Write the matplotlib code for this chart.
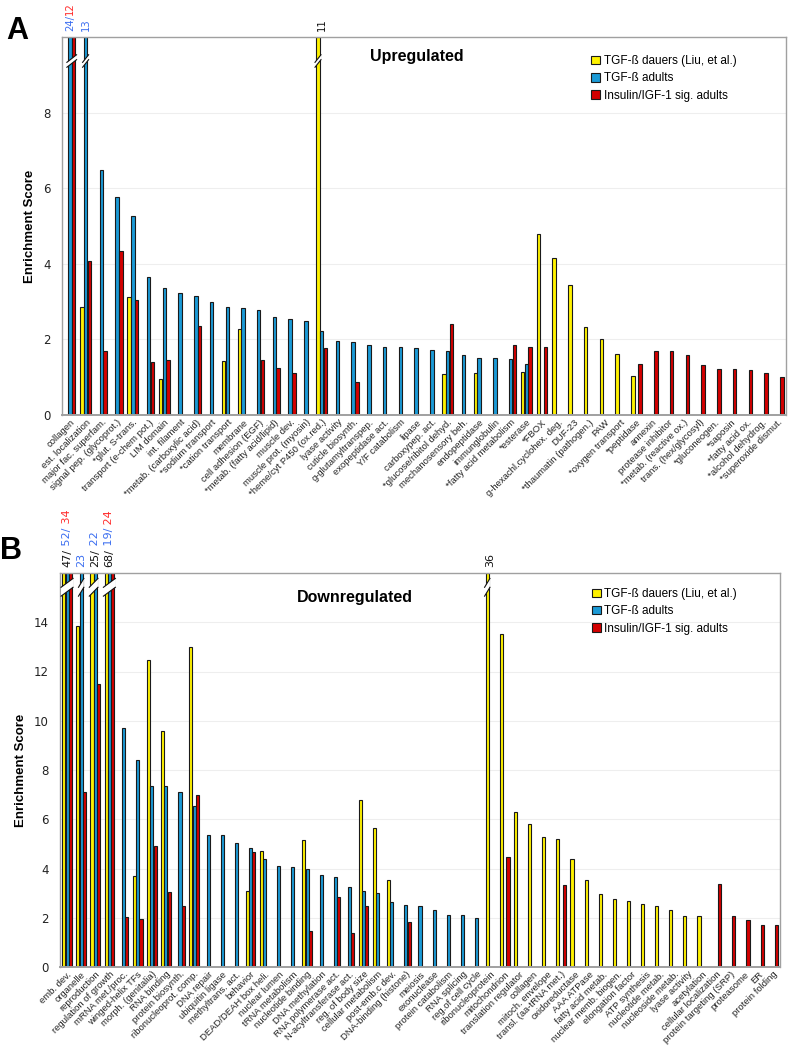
import numpy as np
import matplotlib
matplotlib.use('Agg')
import matplotlib.pyplot as plt
from matplotlib.patches import Patch, Polygon

nan = np.nan

# ---- panel A: upregulated ----
up_categories = ['collagen', 'est. localization', 'major fac. superfam.', 'signal pep. (glycoprot.)',
                 '*glut. S-trans.', 'transport (e-chem pot.)', 'LIM domain', 'int. filament',
                 '*metab. (carboxylic acid)', '*sodium transport', '*cation transport', 'membrane',
                 'cell adhesion (EGF)', '*metab. (fatty acid/lipid)', 'muscle dev.', 'muscle prot. (myosin)',
                 '*heme/cyt P450 (ox.red.)', 'lyase activity', 'cuticle biosynth.', 'g-glutamyltranspep.',
                 'exopeptidase act.', 'Y/F catabolism', 'lipase', 'carboxypep. act.',
                 '*glucose/ribitol dehyd.', 'mechanosensory beh.', 'endopeptidase', 'immunglobulin',
                 '*fatty acid metabolism', '*esterase', '*FBOX', 'g-hexachl.cyclohex. deg.', 'DUF-23',
                 '*thaumatin (pathogen.)', 'PAW', '*oxygen transport', '*peptidase', 'annexin',
                 'protease inhibitor', '*metab. (reactive ox.)', 'trans. (hex/glycosyl)', '*gluconeogen.',
                 '*saposin', '*fatty acid ox.', '*alcohol dehydrog.', '*superoxide dismut.']
up_dauers = [nan, 2.87, nan, nan, 3.12, nan, 0.95, nan, nan, nan, 1.42, 2.28, nan, nan, nan, nan,
             11, nan, nan, nan, nan, nan, nan, nan, 1.08, nan, 1.12, nan, nan, 1.15, 4.78, 4.15,
             3.44, 2.34, 2.01, 1.62, 1.02, nan, nan, nan, nan, nan, nan, nan, nan, nan]
up_tgf_adults = [24, 13, 6.47, 5.76, 5.27, 3.65, 3.37, 3.24, 3.16, 2.98, 2.86, 2.82, 2.77, 2.59, 2.54, 2.49,
                 2.23, 1.95, 1.92, 1.86, 1.80, 1.80, 1.76, 1.71, 1.68, 1.60, 1.50, 1.50, 1.48, 1.35,
                 nan, nan, nan, nan, nan, nan, nan, nan, nan, nan, nan, nan, nan, nan, nan, nan]
up_insulin = [12, 4.08, 1.70, 4.34, 3.03, 1.40, 1.46, nan, 2.35, nan, nan, nan, 1.45, 1.24, 1.11, nan,
              1.78, nan, 0.88, nan, nan, nan, nan, nan, 2.41, nan, nan, nan, 1.84, 1.79, 1.79, nan,
              nan, nan, nan, nan, 1.35, 1.69, 1.69, 1.59, 1.32, 1.23, 1.23, 1.19, 1.11, 1.01]

# ---- panel B: downregulated ----
down_categories = ['emb. dev.', 'organelle', 'reproduction', 'regulation of growth', 'mRNA met./proc.',
                   'winged-helix TFs', 'morph. (genitalia)', 'RNA binding', 'protein biosynth.',
                   'ribonucleoprot. comp.', 'DNA repair', 'ubiquitin ligase', 'methyltrans. act.',
                   'behavior', 'DEAD/DEAH box heli.', 'nuclear lumen', 'tRNA metabolism',
                   'nucleotide binding', 'DNA methylation', 'RNA polymerase act.', 'N-acyltransferase act.',
                   'reg. of body size', 'cellular metabolism', 'post-emb.c dev.', 'DNA-binding (histone)',
                   'meiosis', 'exonuclease', 'protein catabolism', 'RNA splicing', 'reg.of cell cycle',
                   'ribonucleoprotein', 'mitochondrion', 'translation regulator', 'collagen',
                   'mitoch. envelope', 'transl. (aa-tRNA met.)', 'oxidoreductase', 'AAA ATPase',
                   'fatty acid metab.', 'nuclear memb. biogen.', 'elongation factor', 'ATP synthesis',
                   'nucleotide metab.', 'nucleoside metab.', 'lyase activity', 'acetylation',
                   'cellular localization', 'protein targeting (SRP)', 'proteasome', 'ER', 'protein folding']
down_dauers = [47, 13.86, 25, 68, nan, 3.71, 12.46, 9.59, nan, 12.99, nan, nan, nan, 3.07, 4.71, nan,
               nan, 5.14, nan, nan, nan, 6.77, 5.65, 3.55, nan, nan, nan, nan, nan, nan, 36, 13.51,
               6.30, 5.80, 5.29, 5.21, 4.37, 3.52, 2.98, 2.75, 2.68, 2.54, 2.46, 2.32, 2.08, 2.08,
               nan, nan, nan, nan, nan]
down_tgf_adults = [52, 23, 22, 19, 9.71, 8.42, 7.33, 7.33, 7.12, 6.54, 5.36, 5.36, 5.02, 4.84, 4.39, 4.12,
                   4.05, 3.98, 3.74, 3.66, 3.26, 3.09, 3.01, 2.63, 2.50, 2.49, 2.33, 2.12, 2.12, 2.01,
                   nan, nan, nan, nan, nan, nan, nan, nan, nan, nan, nan, nan, nan, nan, nan, nan,
                   nan, nan, nan, nan, nan]
down_insulin = [34, 7.12, 11.5, 24, 2.05, 1.95, 4.91, 3.06, 2.49, 6.98, nan, nan, nan, 4.67, nan, nan,
                nan, 1.45, nan, 2.86, 1.40, 2.49, nan, nan, 1.81, nan, nan, nan, nan, nan, nan, 4.48,
                nan, nan, nan, 3.32, nan, nan, nan, nan, nan, nan, nan, nan, nan, nan,
                3.36, 2.08, 1.89, 1.70, 1.69]

series_names = ['TGF-ß dauers (Liu, et al.)', 'TGF-ß adults', 'Insulin/IGF-1 sig. adults']
bar_colors = ['#fff200', '#1b9ad6', '#d40000']
label_colors = ['#111111', '#3a6df0', '#ff2a2a']

plt.rcParams['font.family'] = ['Liberation Sans', 'DejaVu Sans']

BAR_W = 0.22
OFFSETS = [-0.235, 0.0, 0.235]


def draw_panel(fig, rect, categories, series, ymax, yticks, brk, title, title_pos, legend_pos,
               panel_letter, letter_pos, top_size, top_sep, ylabel_pad):
    ax = fig.add_axes(rect)
    x = np.arange(len(categories))
    for vals, off, col in zip(series, OFFSETS, bar_colors):
        vals = np.array(vals, dtype=float)
        mask = ~np.isnan(vals)
        ax.bar(x[mask] + off, np.minimum(vals[mask], ymax), BAR_W, color=col,
               edgecolor='#1a1a1a', linewidth=0.8, zorder=2)

    ax.set_xlim(-0.5, len(categories) - 0.5)
    ax.set_ylim(0, ymax)
    ax.set_yticks(yticks)
    ax.set_yticklabels([str(t) for t in yticks], family='DejaVu Sans', fontsize=8.5, color='#222222')
    ax.tick_params(axis='y', length=0, pad=8)
    ax.tick_params(axis='x', length=0, pad=2)
    ax.set_xticks(x)
    ax.set_xticklabels(categories, rotation=45, ha='right', rotation_mode='anchor', fontsize=6.8,
                       color='#222222')
    ax.yaxis.grid(True, color='#eeeeee', linewidth=0.8, zorder=0)
    ax.set_axisbelow(True)
    for s in ax.spines.values():
        s.set_color('#a0a0a0')
        s.set_linewidth(1.0)
    ax.spines['bottom'].set_linewidth(1.4)
    ax.set_ylabel('Enrichment Score', fontsize=9.5, fontweight='bold', labelpad=ylabel_pad)

    # broken bars: white gap with slashes, value written above the axes
    lo, slant, gap = brk
    renderer = fig.canvas.get_renderer()
    for i in range(len(categories)):
        broken = [k for k in range(3) if not np.isnan(series[k][i]) and series[k][i] > ymax]
        if not broken:
            continue
        xl = i + OFFSETS[broken[0]] - BAR_W / 2 - 0.08
        xr = i + OFFSETS[broken[-1]] + BAR_W / 2 + 0.08
        poly = Polygon([(xl, lo), (xr, lo + slant), (xr, lo + slant + gap), (xl, lo + gap)],
                       closed=True, facecolor='white', edgecolor='none', zorder=3)
        ax.add_patch(poly)
        ax.plot([xl, xr], [lo, lo + slant], color='#111111', lw=0.8, zorder=4)
        ax.plot([xl, xr], [lo + gap, lo + slant + gap], color='#111111', lw=0.8, zorder=4)

        offset = 4.5
        for n, k in enumerate(broken):
            txt = '%d' % series[k][i]
            if n < len(broken) - 1:
                txt += '/'
            if n > 0:
                txt = top_sep + txt
            t = ax.annotate(txt, xy=(i, 1), xycoords=('data', 'axes fraction'),
                            xytext=(0, offset), textcoords='offset points', rotation=90,
                            ha='center', va='bottom', fontsize=top_size, color=label_colors[k],
                            family='DejaVu Sans', annotation_clip=False)
            bb = t.get_window_extent(renderer)
            offset += bb.height * 72.0 / fig.dpi

    ax.text(title_pos[0], title_pos[1], title, transform=ax.transAxes, fontsize=11.5,
            fontweight='bold', ha='center', va='center')

    handles = [Patch(facecolor=c, edgecolor='#1a1a1a', linewidth=0.8) for c in bar_colors]
    ax.legend(handles, series_names, loc='upper left', bbox_to_anchor=legend_pos, frameon=False,
              fontsize=8.5, handlelength=0.75, handleheight=0.75, handletextpad=0.3,
              labelspacing=0.45, borderpad=0, borderaxespad=0)

    fig.text(letter_pos[0], letter_pos[1], panel_letter, fontsize=22, fontweight='bold',
             ha='left', va='center')
    return ax


fig = plt.figure(figsize=(7.88, 10.5), dpi=100)

draw_panel(fig, [62 / 788, 1 - 415 / 1050, 724 / 788, 378 / 1050], up_categories,
           [up_dauers, up_tgf_adults, up_insulin], 10, [0, 2, 4, 6, 8], (9.2, 0.2, 0.13),
           'Upregulated', (0.49, 0.948), (0.731, 0.952), 'A', (6 / 788, 1 - 31 / 1050), 7.2, '', 5)

draw_panel(fig, [60 / 788, 1 - 967 / 1050, 720 / 788, 394 / 1050], down_categories,
           [down_dauers, down_tgf_adults, down_insulin], 16, list(range(0, 16, 2)), (15.06, 0.36, 0.36),
           'Downregulated', (0.41, 0.937), (0.739, 0.962), 'B', (0 / 788, 1 - 551 / 1050), 8.0, ' ', 5)

fig.savefig('out.png', dpi=100)
